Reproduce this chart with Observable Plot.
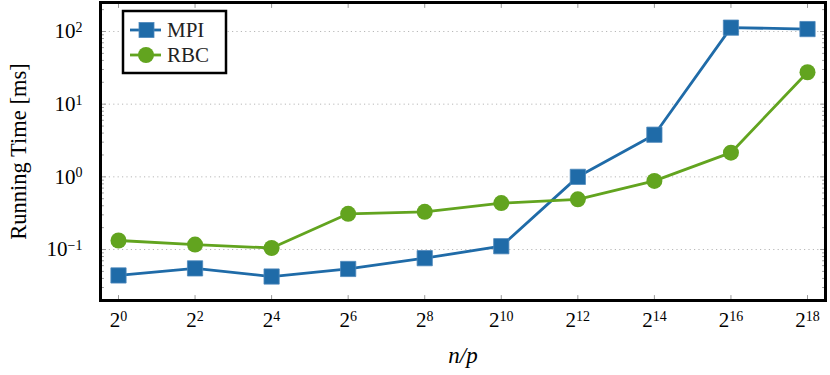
<!DOCTYPE html>
<html>
<head>
<meta charset="utf-8">
<script src="https://cdn.jsdelivr.net/npm/d3@7"></script>
<script src="https://cdn.jsdelivr.net/npm/@observablehq/plot@0.6"></script>
<style>
  body { margin: 0; background: #fff; }
  #chart { position: relative; width: 830px; height: 375px; }
  #chart svg, #chart svg text { font-family: 'Liberation Serif', 'DejaVu Serif', serif; }
</style>
</head>
<body>
<div id="chart"></div>
<script>
// ---- data ----
const exponents = [0, 2, 4, 6, 8, 10, 12, 14, 16, 18];
const nOverP = exponents.map(e => 2 ** e);
const mpi = [0.044, 0.055, 0.0425, 0.054, 0.076, 0.111, 1.0, 3.8, 113, 108];
const rbc = [0.133, 0.117, 0.105, 0.31, 0.33, 0.435, 0.49, 0.88, 2.15, 27.5];
const seriesNames = ["MPI", "RBC"];
const seriesColors = ["#1f6ba8", "#62a41f"];
const yMajor = [0.1, 1, 10, 100];
const yMinor = [0.02,0.03,0.04,0.05,0.06,0.07,0.08,0.09,0.2,0.3,0.4,0.5,0.6,0.7,0.8,0.9,2,3,4,5,6,7,8,9,20,30,40,50,60,70,80,90,200];

const rows = [];
nOverP.forEach((n, i) => {
  rows.push({n, exp: exponents[i], value: mpi[i], series: "MPI"});
  rows.push({n, exp: exponents[i], value: rbc[i], series: "RBC"});
});

const tickLine = (len) => ({draw(ctx, l) { ctx.moveTo(0, 0); ctx.lineTo(0, -len); }});
const serif = "Liberation Serif";

const plot = Plot.plot({
  width: 830,
  height: 375,
  marginLeft: 100,
  marginRight: 5,
  marginTop: 2,
  marginBottom: 75,
  x: {type: "log", base: 2, domain: [2 ** -0.47, 2 ** 18.47]},
  y: {type: "log", domain: [10 ** -1.7015, 10 ** 2.399]},
  color: {domain: seriesNames, range: seriesColors},
  marks: [
    Plot.ruleY(yMajor, {stroke: "#b8b8b8", strokeDasharray: "1.2,3.2", strokeWidth: 1}),
    // inward ticks
    Plot.vector(yMajor, {y: d => d, frameAnchor: "left", rotate: 90, anchor: "start", length: 1, shape: tickLine(5), stroke: "#999", strokeWidth: 1}),
    Plot.vector(yMajor, {y: d => d, frameAnchor: "right", rotate: -90, anchor: "start", length: 1, shape: tickLine(5), stroke: "#999", strokeWidth: 1}),
    Plot.vector(yMinor, {y: d => d, frameAnchor: "left", rotate: 90, anchor: "start", length: 1, shape: tickLine(3), stroke: "#999", strokeWidth: 1}),
    Plot.vector(yMinor, {y: d => d, frameAnchor: "right", rotate: -90, anchor: "start", length: 1, shape: tickLine(3), stroke: "#999", strokeWidth: 1}),
    Plot.vector(nOverP, {x: d => d, frameAnchor: "bottom", rotate: 0, anchor: "start", length: 1, shape: tickLine(5), stroke: "#999", strokeWidth: 1}),
    Plot.vector(nOverP, {x: d => d, frameAnchor: "top", rotate: 180, anchor: "start", length: 1, shape: tickLine(5), stroke: "#999", strokeWidth: 1}),
    Plot.axisX({ticks: nOverP, tickSize: 0, tickPadding: 12, fontSize: 21, fontFamily: serif, tickFormat: d => "2^" + Math.round(Math.log2(d)),
      label: "n/p", labelAnchor: "center", labelArrow: "none", labelOffset: 62}),
    Plot.axisY({ticks: yMajor, tickSize: 0, tickPadding: 18, fontSize: 21, fontFamily: serif, tickFormat: d => "10^" + Math.round(Math.log10(d)),
      label: "Running Time [ms]", labelAnchor: "center", labelArrow: "none", labelOffset: 90}),
    Plot.line(rows, {x: "n", y: "value", stroke: "series", strokeWidth: 2.8}),
    Plot.dot(rows.filter(d => d.series === "MPI"), {x: "n", y: "value", symbol: "square", r: 8.6, fill: "series", stroke: "#4d88bb", strokeWidth: 0.8}),
    Plot.dot(rows.filter(d => d.series === "RBC"), {x: "n", y: "value", symbol: "circle", r: 8, fill: "series"}),
    Plot.frame({stroke: "black", strokeWidth: 3})
  ]
});

document.getElementById("chart").appendChild(plot);

// superscripts in tick labels
const svg = d3.select(plot);
svg.selectAll('[aria-label="x-axis tick label"] text, [aria-label="y-axis tick label"] text').each(function() {
  const t = d3.select(this);
  const s = t.text();
  if (!s.includes("^")) return;
  const [base, exp] = s.split("^");
  t.text("");
  t.append("tspan").text(base);
  t.append("tspan").attr("dy", "-0.45em").attr("font-size", "14px").text(exp.replace("-", "\u2212"));
});
svg.selectAll('[aria-label="x-axis label"] text').attr("font-style", "italic").attr("font-size", "23px");
svg.selectAll('[aria-label="y-axis label"] text').attr("font-size", "22.5px");

// legend (inside plot area, top-left)
const lg = svg.append("g").attr("font-family", serif).attr("font-size", "21px").attr("text-anchor", "start");
lg.append("rect").attr("x", 123).attr("y", 11).attr("width", 103).attr("height", 62)
  .attr("fill", "white").attr("stroke", "black").attr("stroke-width", 2.5);
seriesNames.forEach((name, i) => {
  const cy = 30 + i * 25;
  const c = seriesColors[i];
  lg.append("line").attr("x1", 130).attr("x2", 161).attr("y1", cy).attr("y2", cy).attr("stroke", c).attr("stroke-width", 2.8);
  if (i === 0) lg.append("rect").attr("x", 139).attr("y", cy - 7.5).attr("width", 15).attr("height", 15).attr("fill", c).attr("stroke", "#4d88bb").attr("stroke-width", 0.8);
  else lg.append("circle").attr("cx", 146).attr("cy", cy).attr("r", 8).attr("fill", c);
  lg.append("text").attr("x", 167).attr("y", cy).attr("dy", "0.35em").attr("fill", "#222").text(name);
});
</script>
</body>
</html>
